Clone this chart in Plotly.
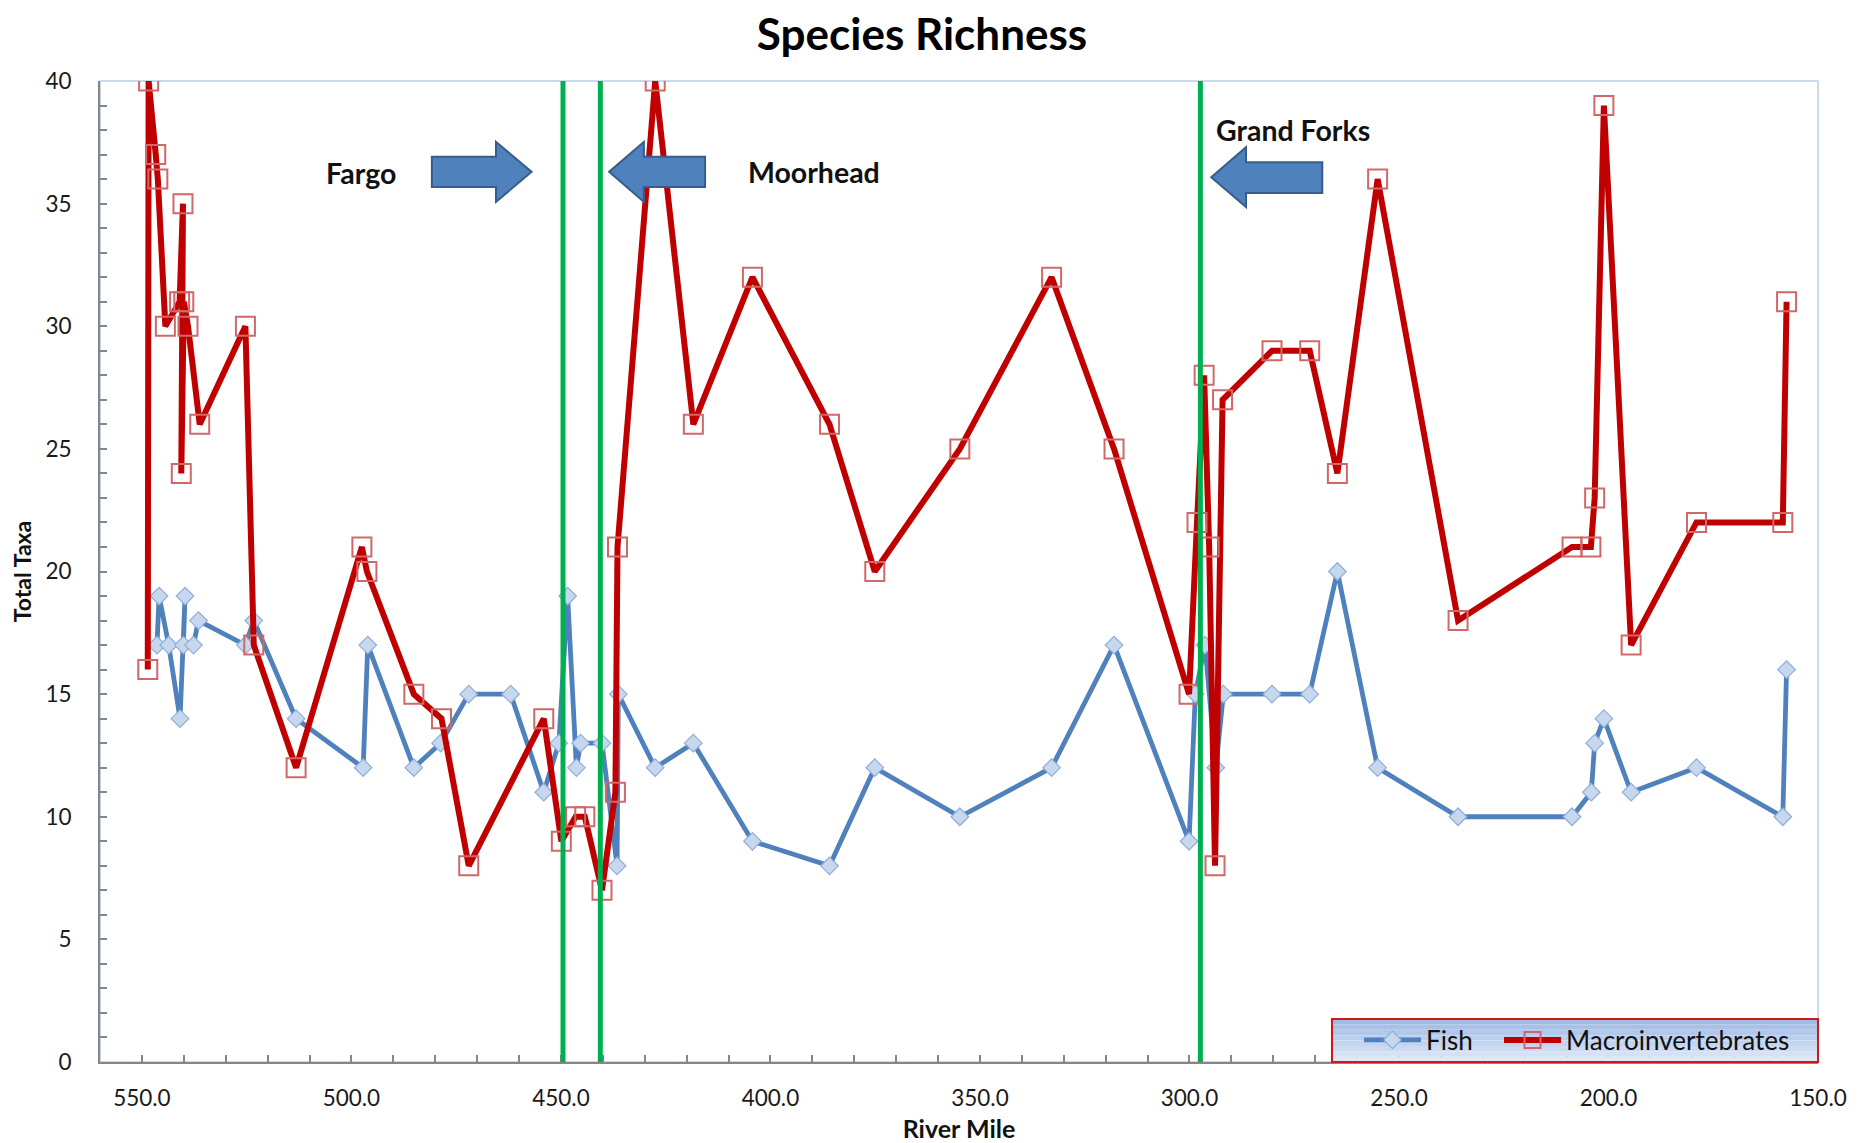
import plotly.graph_objects as go

# ---------------- data ----------------
fish_mile = [546.4, 545.9, 543.6, 540.9, 539.7, 540.1, 537.7, 536.5, 525.3, 523.3,
             513.2, 497.2, 496.1, 485.1, 478.7, 472.0, 462.0, 454.1, 450.5, 448.4,
             446.3, 445.3, 440.2, 436.6, 436.3, 427.5, 418.4, 404.3, 385.9, 375.1,
             354.8, 332.9, 318.0, 300.1, 298.6, 296.3, 293.7, 291.9, 280.3, 271.3,
             264.7, 255.1, 235.9, 208.7, 204.1, 203.3, 201.1, 194.6, 179.0, 158.4,
             157.5]
fish_taxa = [17, 19, 17, 14, 19, 17, 17, 18, 17, 18,
             14, 12, 17, 12, 13, 15, 15, 11, 13, 19,
             12, 13, 13, 8, 15, 12, 13, 9, 8, 12,
             10, 12, 17, 9, 15, 17, 12, 15, 15, 15,
             20, 12, 10, 10, 11, 13, 14, 11, 12, 10,
             16]

macro_mile = [548.6, 548.4, 546.7, 546.2, 544.4, 541.0, 540.2, 540.6, 540.0, 539.0,
              536.2, 525.3, 523.3, 513.2, 497.5, 496.3, 485.1, 478.5, 472.0, 454.1,
              449.9, 446.5, 444.3, 440.2, 437.0, 436.5, 427.5, 418.4, 404.3, 385.9,
              375.1, 354.8, 332.9, 318.0, 300.1, 298.2, 296.5, 295.3, 293.9, 292.1,
              280.3, 271.3, 264.7, 255.1, 235.9, 208.7, 204.2, 203.3, 201.1, 194.6,
              179.0, 158.4, 157.5]
macro_taxa = [16, 40, 37, 36, 30, 31, 35, 24, 31, 30,
              26, 30, 17, 12, 21, 20, 15, 14, 8, 14,
              9, 10, 10, 7, 11, 21, 40, 26, 32, 26,
              20, 25, 32, 25, 15, 22, 28, 21, 8, 27,
              29, 29, 24, 36, 18, 21, 21, 23, 39, 17,
              22, 22, 31]

city_names = ["Fargo", "Moorhead", "Grand Forks"]
city_line_miles = [449.5, 440.6, 297.4]
x_tick_vals = [550, 500, 450, 400, 350, 300, 250, 200, 150]
y_tick_vals = [0, 5, 10, 15, 20, 25, 30, 35, 40]

# ---------------- styling ----------------
FONT = "Lato"
BLUE = "#4F81BD"
RED = "#C00000"
GREEN = "#00B050"
AXIS_GRAY = "#868686"

# the page adds an 8px body margin, so the figure is 8px smaller than the window
W, H = 1850, 1135
PLOT_L, PLOT_R, PLOT_T, PLOT_B = 92, 40, 73, 81
PW = W - PLOT_L - PLOT_R
PH = H - PLOT_T - PLOT_B

fig = go.Figure()
fig.add_trace(go.Scatter(
    x=fish_mile, y=fish_taxa, mode="lines+markers", name="Fish",
    line=dict(color=BLUE, width=4.8),
    marker=dict(symbol="diamond", size=13.5, color="#C6D7EE",
                line=dict(color="#8EAEDA", width=1.2)),
    legendwidth=68,
))
fig.add_trace(go.Scatter(
    x=macro_mile, y=macro_taxa, mode="lines+markers", name="Macroinvertebrates",
    line=dict(color=RED, width=6),
    marker=dict(symbol="square-open", size=19, color="#D06868",
                line=dict(width=2)),
))

shapes = []
# plot-area border (light blue)
shapes.append(dict(type="rect", xref="paper", yref="paper", x0=0, x1=1, y0=0, y1=1,
                   line=dict(color="#B9CDE5", width=1.5), layer="below"))
# green city boundary lines
for m in city_line_miles:
    shapes.append(dict(type="line", xref="x", yref="y", x0=m, x1=m, y0=0, y1=40,
                       line=dict(color=GREEN, width=5), layer="above"))


def block_arrow(tail, base, tip, body_lo, body_hi, head_lo, head_hi):
    mid = (head_lo + head_hi) / 2
    p = (f"M {tail},{body_lo} L {base},{body_lo} L {base},{head_lo} L {tip},{mid} "
         f"L {base},{head_hi} L {base},{body_hi} L {tail},{body_hi} Z")
    return dict(type="path", xref="x", yref="y", path=p,
                fillcolor=BLUE, line=dict(color="#385D8A", width=2), layer="above")


# Fargo (pointing right, i.e. toward lower river mile), Moorhead & Grand Forks (pointing left)
shapes.append(block_arrow(480.8, 465.5, 457.0, 35.68, 36.91, 35.07, 37.52))
shapes.append(block_arrow(415.6, 430.2, 438.5, 35.68, 36.91, 35.07, 37.52))
shapes.append(block_arrow(268.3, 286.5, 294.8, 35.43, 36.69, 34.86, 37.30))

# legend box with a vertical blue gradient and red border (legend itself is transparent)
box_x0 = (1332 - 100) / PW
box_y1 = (1062 - 1019) / PH
n_strips = 8
grad_top, grad_bot = (160, 187, 229), (222, 231, 246)
for i in range(n_strips):
    t = i / (n_strips - 1)
    c = tuple(round(grad_top[k] + (grad_bot[k] - grad_top[k]) * t) for k in range(3))
    y_hi = box_y1 * (1 - i / n_strips)
    y_lo = box_y1 * (1 - (i + 1) / n_strips)
    shapes.append(dict(type="rect", xref="paper", yref="paper", x0=box_x0, x1=1,
                       y0=y_lo, y1=y_hi, fillcolor="rgb(%d,%d,%d)" % c,
                       line=dict(width=0), layer="above"))
shapes.append(dict(type="rect", xref="paper", yref="paper", x0=box_x0, x1=1, y0=0, y1=box_y1,
                   line=dict(color="#D01818", width=2), fillcolor="rgba(0,0,0,0)", layer="above"))

label_font = dict(family=FONT, size=28.5, color="#111111")
annotations = [
    dict(x=497.8, y=36.25, xref="x", yref="y", text="<b>Fargo</b>", showarrow=False, font=label_font),
    dict(x=389.6, y=36.3, xref="x", yref="y", text="<b>Moorhead</b>", showarrow=False, font=label_font),
    dict(x=275.3, y=38.0, xref="x", yref="y", text="<b>Grand Forks</b>", showarrow=False, font=label_font),
]

fig.update_layout(
    width=W, height=H,
    margin=dict(l=PLOT_L, r=PLOT_R, t=PLOT_T, b=PLOT_B),
    paper_bgcolor="white", plot_bgcolor="white",
    font=dict(family=FONT, color="#1a1a1a"),
    title=dict(text="<b>Species Richness</b>", x=914 / W, xref="container", xanchor="center",
               y=1 - 27 / H, yref="container", yanchor="middle",
               font=dict(family=FONT, size=44, color="#000000")),
    shapes=shapes,
    annotations=annotations,
    legend=dict(orientation="h", x=(1359 - 100) / PW, xanchor="left",
                y=(1062 - 1040) / PH, yanchor="middle",
                bgcolor="rgba(0,0,0,0)", borderwidth=0,
                font=dict(family=FONT, size=26, color="#111111"),
                itemwidth=57),
    showlegend=True,
)

fig.update_xaxes(
    range=[560, 150], tickvals=x_tick_vals, tickformat=".1f", automargin=False,
    showline=True, linecolor=AXIS_GRAY, linewidth=2,
    ticks="inside", ticklen=7, tickcolor=AXIS_GRAY, tickwidth=1.5,
    minor=dict(dtick=10, tick0=0, ticks="inside", ticklen=7, tickcolor=AXIS_GRAY, tickwidth=1.5),
    showgrid=False, zeroline=False,
    tickfont=dict(family=FONT, size=22.5, color="#1a1a1a"),
    ticklabelstandoff=15,
    title=dict(text="<b>River Mile</b>", font=dict(family=FONT, size=25, color="#111111"), standoff=21),
)
fig.update_yaxes(
    range=[0, 40], tickvals=y_tick_vals, automargin=False,
    showline=True, linecolor=AXIS_GRAY, linewidth=2,
    ticks="inside", ticklen=7, tickcolor=AXIS_GRAY, tickwidth=1.5,
    minor=dict(dtick=1, tick0=0, ticks="inside", ticklen=7, tickcolor=AXIS_GRAY, tickwidth=1.5),
    showgrid=False, zeroline=False,
    tickfont=dict(family=FONT, size=22.5, color="#1a1a1a"),
    ticklabelstandoff=22,
    title=dict(text="<b>Total Taxa</b>", font=dict(family=FONT, size=23, color="#111111"), standoff=20),
)

fig.write_html("out.html")
